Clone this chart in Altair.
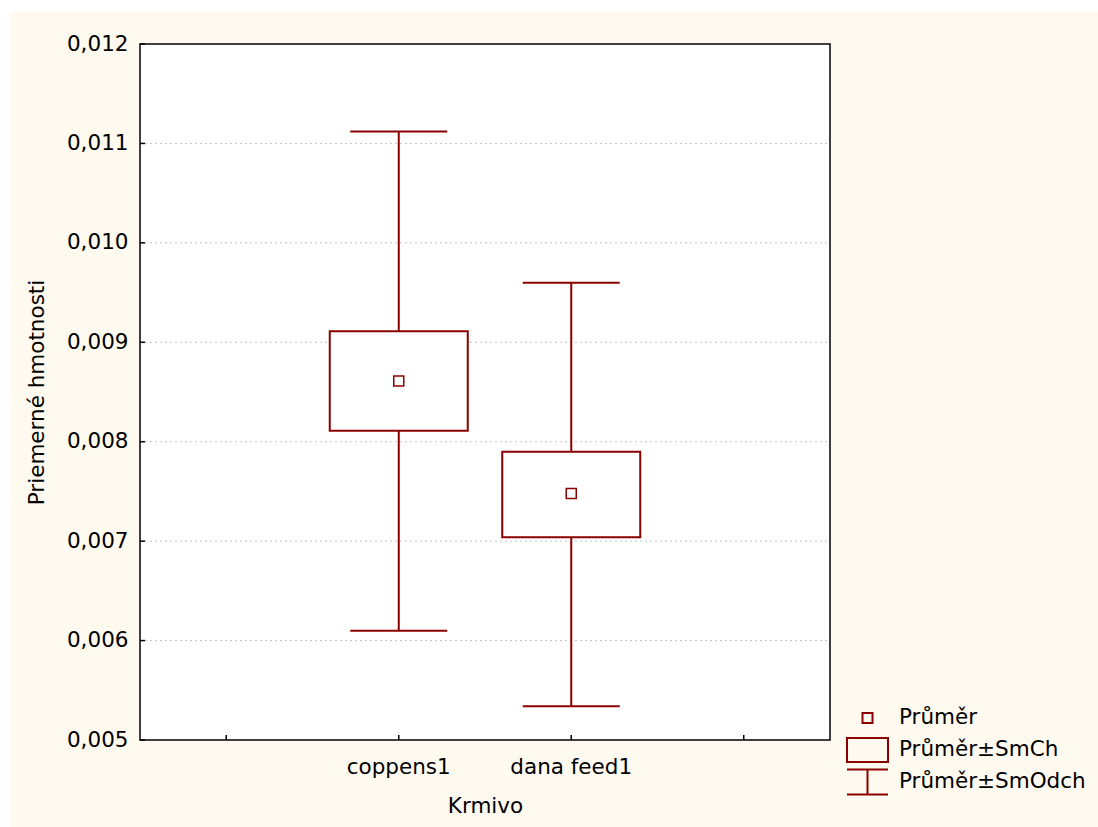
import altair as alt
import pandas as pd

# ---- data ----
categories = ["coppens1", "dana feed1"]
mean_vals = [0.00861, 0.00748]
se_low = [0.00811, 0.00704]
se_high = [0.00911, 0.00790]
sd_low = [0.00610, 0.00534]
sd_high = [0.01112, 0.00960]

axis_slots = [" ", "coppens1", "dana feed1", "  "]
y_ticks = [0.005, 0.006, 0.007, 0.008, 0.009, 0.010, 0.011, 0.012]
grid_vals = [0.006, 0.007, 0.008, 0.009, 0.010, 0.011]
legend_labels = ["Průměr", "Průměr±SmCh", "Průměr±SmOdch"]
legend_paths = [
    "M-0.244,-0.244H0.244V0.244H-0.244Z",
    "M-1,-0.585H1V0.585H-1Z",
    "M-1,-0.61H1M0,-0.61V0.61M-1,0.61H1",
]

W, H = 690, 696
RED = "#8b0000"
CREAM = "#fffaf0"
FONT = "DejaVu Sans"
FS = 21.5

df = pd.DataFrame({
    "cat": categories, "mean": mean_vals,
    "se_low": se_low, "se_high": se_high,
    "sd_low": sd_low, "sd_high": sd_high,
})
caps = pd.DataFrame({"cat": categories * 2, "v": sd_low + sd_high})
slots_df = pd.DataFrame({"cat": axis_slots})
yt_df = pd.DataFrame({"v": y_ticks})
grid_df = pd.DataFrame({"v": grid_vals})

xscale = alt.Scale(domain=axis_slots, paddingInner=0, paddingOuter=0)
yscale = alt.Scale(domain=[0.005, 0.012], nice=False, zero=False)

xaxis = alt.Axis(title="Krmivo", labelAngle=0, ticks=False, domain=False, grid=False,
                 labelFont=FONT, labelFontSize=FS, labelColor="black", labelPadding=16,
                 titleFont=FONT, titleFontSize=FS, titleFontWeight="normal", titleColor="black",
                 titlePadding=18, zindex=1)
yaxis = alt.Axis(title="Priemerné hmotnosti", values=y_ticks, ticks=False, domain=False, grid=False,
                 labelExpr="replace(format(datum.value, '.3f'), '.', ',')",
                 labelFont=FONT, labelFontSize=FS, labelColor="black", labelPadding=12,
                 titleFont=FONT, titleFontSize=FS, titleFontWeight="normal", titleColor="black",
                 titlePadding=18, zindex=1)

X = alt.X("cat:N", scale=xscale, axis=xaxis, sort=axis_slots)
def Y(field):
    return alt.Y(f"{field}:Q", scale=yscale, axis=yaxis)

one = alt.Data(values=[{}])

bg = alt.Chart(one).mark_rect(color=CREAM).encode(
    x=alt.value(-130), x2=alt.value(W + 268), y=alt.value(-32), y2=alt.value(H + 87))
plotbg = alt.Chart(one).mark_rect(color="white").encode(
    x=alt.value(0), x2=alt.value(W), y=alt.value(0), y2=alt.value(H))

grid = alt.Chart(grid_df).mark_rule(color="#c4c4c4", strokeDash=[2, 3], strokeWidth=1).encode(
    y=Y("v"), x=alt.value(0), x2=alt.value(W))

whisk = alt.Chart(df).mark_rule(color=RED, strokeWidth=2).encode(
    x=X, y=Y("sd_low"), y2="sd_high:Q")
capm = alt.Chart(caps).mark_tick(color=RED, thickness=2, size=97, orient="horizontal",
                                 opacity=1).encode(
    x=X, y=Y("v"))
box = alt.Chart(df).mark_bar(fill="white", stroke=RED, strokeWidth=2,
                             width=alt.RelativeBandSize(0.8)).encode(
    x=X, y=Y("se_low"), y2="se_high:Q")
means = alt.Chart(df).mark_point(filled=False, color=RED, strokeWidth=1.5, size=1681, opacity=1).encode(
    x=X, y=Y("mean"),
    shape=alt.Shape("lab:N", scale=alt.Scale(domain=legend_labels, range=legend_paths),
                    legend=alt.Legend(title=None, orient="none", legendX=706, legendY=658,
                                      symbolSize=1681, symbolStrokeColor=RED, symbolStrokeWidth=2,
                                      symbolFillColor="transparent",
                                      labelFont=FONT, labelFontSize=FS, labelColor="black",
                                      labelOffset=10, labelLimit=400, clipHeight=32, rowPadding=0,
                                      values=legend_labels)),
).transform_calculate(lab="'Průměr'")

ytick = alt.Chart(yt_df).mark_tick(color="black", thickness=1.5, size=5, orient="horizontal",
                                   opacity=1).encode(
    y=Y("v"), x=alt.value(2.5))
xtick = alt.Chart(slots_df).mark_tick(color="black", thickness=1.5, size=5, orient="vertical",
                                      opacity=1).encode(
    x=X, y=alt.value(H - 2.5))
border = alt.Chart(one).mark_rect(fill=None, stroke="black", strokeWidth=1.5).encode(
    x=alt.value(0), x2=alt.value(W), y=alt.value(0), y2=alt.value(H))

chart = alt.layer(bg, plotbg, grid, whisk, capm, box, means, ytick, xtick, border).properties(
    width=W, height=H, background="white",
    padding={"left": 10, "top": 12, "right": 0, "bottom": 0},
).configure_view(stroke=None)

chart.save("out.html", embed_options={"renderer": "svg", "actions": False})
